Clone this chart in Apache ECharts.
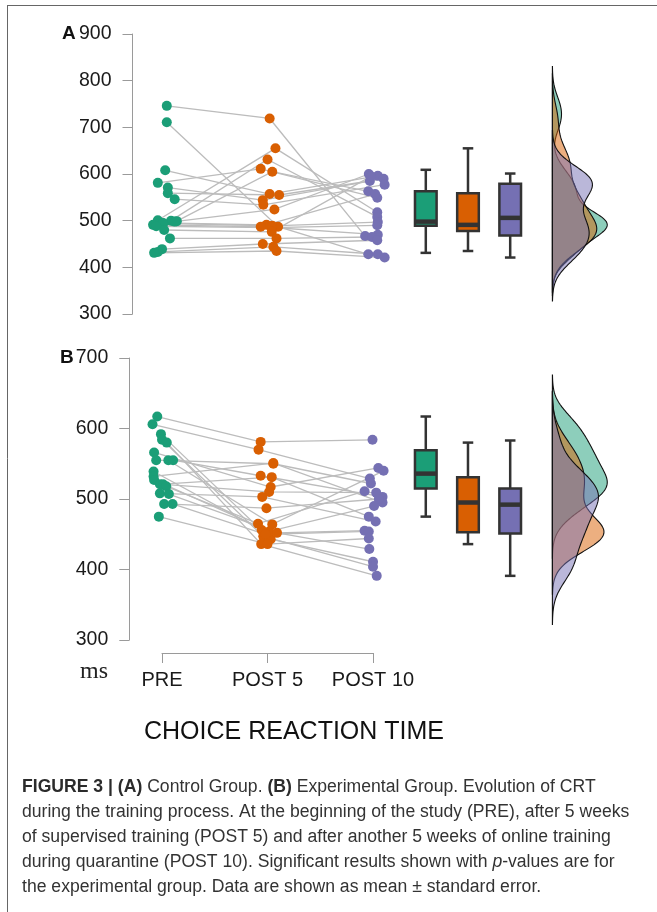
<!DOCTYPE html>
<html><head><meta charset="utf-8">
<script src="https://cdn.jsdelivr.net/npm/echarts@6/dist/echarts.min.js"></script>
<style>html,body{margin:0;padding:0;background:#fff}#c{width:657px;height:912px}</style>
</head><body><div id="c"></div>
<script>
// ---------- data ----------
const categories = ['PRE', 'POST 5', 'POST 10'];
const yRangeA = [300, 900];
const yRangeB = [300, 700];
// Panel A (control group), one entry per participant
const preA   = [746, 711, 608, 581, 571, 559, 546, 501, 500, 499, 498, 495, 494, 491, 488, 480, 462, 439, 433, 431];
const post5A = [719, 487, 557, 611, 544, 555, 534, 655, 631, 605, 524, 491, 489, 487, 485, 476, 462, 450, 444, 435];
const post10A= [467, 428, 596, 549, 590, 585, 577, 518, 508, 563, 600, 557, 497, 470, 490, 595, 465, 458, 428, 421];
// horizontal jitter (category units)
const jPreA  = [0.045, 0.045, 0.03, -0.04, 0.055, 0.055, 0.12, -0.04, 0.085, 0.14, 0.12, 0.01, 0.01, -0.085, -0.055, 0.02, 0.075, 0, -0.04, -0.075];
const j5A    = [0.02, 0.1, 0.02, -0.065, -0.045, 0.11, -0.04, 0.075, 0, 0.045, 0.065, -0.01, 0.045, -0.065, 0.04, 0.04, 0.085, -0.045, 0.055, 0.085];
const j10A   = [-0.075, -0.045, 0.045, 0.04, 0.1, -0.03, 0.11, 0.04, 0.04, -0.045, -0.04, 0.02, 0.045, 0.045, 0.04, -0.02, -0.01, 0.04, 0.045, 0.11];
// Panel B (experimental group)
const preB   = [617, 606, 592, 584, 580, 566, 555, 555, 555, 539, 532, 527, 521, 521, 518, 508, 507, 493, 493, 475];
const post5B = [581, 570, 443, 447, 436, 517, 550, 464, 533, 456, 551, 454, 510, 531, 465, 503, 452, 487, 450, 436];
const post10B= [584, 529, 411, 404, 391, 544, 522, 540, 503, 429, 495, 490, 509, 475, 511, 468, 455, 500, 454, 444];
const jPreB  = [-0.045, -0.09, -0.01, 0, 0.045, -0.075, -0.055, 0.06, 0.105, -0.08, -0.08, -0.075, -0.02, 0.01, 0.04, -0.02, 0.065, 0.02, 0.1, -0.03];
const j5B    = [-0.065, -0.085, 0.03, -0.04, -0.06, 0.03, 0.055, 0.045, -0.065, -0.055, 0.055, 0.015, 0.015, 0.04, -0.09, -0.05, 0.09, -0.01, -0.02, 0];
const j10B   = [-0.005, -0.03, 0, 0, 0.035, 0.05, -0.02, 0.1, 0.09, -0.035, 0.09, 0.01, 0.03, -0.04, -0.08, 0.025, -0.08, 0.055, -0.04, -0.04];
// box plot stats [min, Q1, median, Q3, max] per category
const boxA = [[431, 489, 498, 563, 609], [435, 478, 491, 559, 655], [421, 468, 506, 579, 601]];
const boxB = [[475, 515, 536, 569, 617], [436, 453, 495, 531, 580], [391, 451, 492, 515, 583]];

// ---------- styling ----------
const COLORS = ['#1B9E77', '#D95F02', '#7570B3'];
const FILLS = ['rgba(27,158,119,0.5)', 'rgba(217,95,2,0.5)', 'rgba(117,112,179,0.5)'];
const BOX_X = [2.5, 2.9, 3.3];
const DENS_BASE = 3.7, DENS_MAX_W = 0.52;
const FONT = '"Liberation Sans", Arial, sans-serif';

// ---------- helpers ----------
function q7(s, p) { const h = (s.length - 1) * p, lo = Math.floor(h); return s[lo] + (h - lo) * (s[Math.min(lo + 1, s.length - 1)] - s[lo]); }
function bwNrd0(v) {
  const n = v.length, m = v.reduce((a, b) => a + b, 0) / n;
  const sd = Math.sqrt(v.reduce((a, b) => a + (b - m) * (b - m), 0) / (n - 1));
  const s = [...v].sort((a, b) => a - b);
  const iqr = q7(s, 0.75) - q7(s, 0.25);
  return 0.9 * Math.min(sd, iqr / 1.34) * Math.pow(n, -0.2);
}
function kde(v) {
  const bw = bwNrd0(v), lo = Math.min(...v) - 3 * bw, hi = Math.max(...v) + 3 * bw, N = 160, out = [];
  for (let i = 0; i <= N; i++) {
    const y = lo + (hi - lo) * i / N; let d = 0;
    for (const x of v) { const z = (y - x) / bw; d += Math.exp(-0.5 * z * z); }
    out.push([y, d / (v.length * bw * Math.sqrt(2 * Math.PI))]);
  }
  return out;
}

function panelSeries(gi, pre, p5, p10, jp, j5, j10, box) {
  const series = [];
  // connecting lines
  series.push({
    type: 'custom', xAxisIndex: gi, yAxisIndex: gi, z: 1, silent: true,
    data: pre.map((v, i) => [0 + jp[i], v, 1 + j5[i], p5[i], 2 + j10[i], p10[i]]),
    renderItem(params, api) {
      const pts = [0, 2, 4].map(k => api.coord([api.value(k), api.value(k + 1)]));
      return { type: 'polyline', shape: { points: pts }, style: { stroke: '#bcbcbc', lineWidth: 1.3, fill: null } };
    }
  });
  // points
  [[pre, jp], [p5, j5], [p10, j10]].forEach(([vals, jit], c) => {
    series.push({
      type: 'scatter', xAxisIndex: gi, yAxisIndex: gi, z: 3, symbolSize: 10,
      itemStyle: { color: COLORS[c], opacity: 1 },
      data: vals.map((v, i) => [c + jit[i], v])
    });
  });
  // box plots
  series.push({
    type: 'custom', xAxisIndex: gi, yAxisIndex: gi, z: 4,
    data: box.map((b, i) => [BOX_X[i], ...b]),
    renderItem(params, api) {
      const x = api.value(0);
      const w = api.size([0.205, 0])[0], cap = api.size([0.1, 0])[0];
      const P = k => api.coord([x, api.value(k)]);
      const pMin = P(1), pQ1 = P(2), pMed = P(3), pQ3 = P(4), pMax = P(5);
      const st = { stroke: '#333', lineWidth: 2.5 };
      return { type: 'group', children: [
        { type: 'line', shape: { x1: pMin[0], y1: pMin[1], x2: pQ1[0], y2: pQ1[1] }, style: st },
        { type: 'line', shape: { x1: pQ3[0], y1: pQ3[1], x2: pMax[0], y2: pMax[1] }, style: st },
        { type: 'line', shape: { x1: pMin[0] - cap / 2, y1: pMin[1], x2: pMin[0] + cap / 2, y2: pMin[1] }, style: st },
        { type: 'line', shape: { x1: pMax[0] - cap / 2, y1: pMax[1], x2: pMax[0] + cap / 2, y2: pMax[1] }, style: st },
        { type: 'rect', shape: { x: pQ3[0] - w / 2, y: pQ3[1], width: w, height: pQ1[1] - pQ3[1] },
          style: { fill: COLORS[params.dataIndex], stroke: '#333', lineWidth: 2.5 } },
        { type: 'line', shape: { x1: pMed[0] - w / 2, y1: pMed[1], x2: pMed[0] + w / 2, y2: pMed[1] }, style: { stroke: '#333', lineWidth: 4.5 } }
      ] };
    }
  });
  // half-violin densities
  const dens = [pre, p5, p10].map(kde);
  const maxD = Math.max(...dens.map(d => Math.max(...d.map(p => p[1]))));
  const k = DENS_MAX_W / maxD;
  series.push({
    type: 'custom', xAxisIndex: gi, yAxisIndex: gi, z: 2,
    data: [[DENS_BASE, 500], [DENS_BASE, 500], [DENS_BASE, 500]],
    renderItem(params, api) {
      const d = dens[params.dataIndex];
      const pts = [api.coord([DENS_BASE, d[0][0]])];
      d.forEach(([y, den]) => pts.push(api.coord([DENS_BASE + den * k, y])));
      pts.push(api.coord([DENS_BASE, d[d.length - 1][0]]));
      return { type: 'polygon', shape: { points: pts }, style: { fill: FILLS[params.dataIndex], stroke: '#111', lineWidth: 1.1 } };
    }
  });
  return series;
}

const yAxisBase = (range, gi) => ({
  type: 'value', gridIndex: gi, min: range[0], max: range[1], interval: 100,
  axisLine: { show: true, onZero: false, lineStyle: { color: '#9a9a9a', width: 1 } },
  axisTick: { show: true, length: 10, lineStyle: { color: '#9a9a9a', width: 1 } },
  axisLabel: { fontSize: 19.5, color: '#1a1a1a', fontFamily: FONT, margin: 21 },
  splitLine: { show: false }
});

const chart = echarts.init(document.getElementById('c'), null, { renderer: 'canvas' });
const CAP_FS = 17.6;
const capStyle = { fontSize: CAP_FS, fontFamily: FONT, fill: '#333' };
const capRich = { b: { fontWeight: 'bold', fontSize: CAP_FS, fontFamily: FONT, fill: '#2b2b2b' }, i: { fontStyle: 'italic', fontSize: CAP_FS, fontFamily: FONT, fill: '#333' } };
const capLines = [
  '{b|FIGURE 3 | (A)} Control Group. {b|(B)} Experimental Group. Evolution of CRT',
  'during the training process. At the beginning of the study (PRE), after 5 weeks',
  'of supervised training (POST 5) and after another 5 weeks of online training',
  'during quarantine (POST 10). Significant results shown with {i|p}-values are for',
  'the experimental group. Data are shown as mean \u00B1 standard error.'
];

chart.setOption({
  animation: false,
  backgroundColor: '#fff',
  grid: [
    { left: 132.5, top: 34, width: 483.2, height: 280 },
    { left: 129.3, top: 358, width: 486.4, height: 282 },
    { left: 162, top: 600, width: 211, height: 53 }
  ],
  xAxis: [
    { type: 'value', gridIndex: 0, min: -0.28, max: 4.3, show: false },
    { type: 'value', gridIndex: 1, min: -0.31, max: 4.3, show: false },
    { type: 'value', gridIndex: 2, min: 0, max: 2, interval: 1, position: 'bottom',
      axisLine: { show: true, onZero: false, lineStyle: { color: '#9a9a9a', width: 1 } },
      axisTick: { show: true, length: 10, lineStyle: { color: '#9a9a9a', width: 1 } },
      axisLabel: { fontSize: 20, color: '#1a1a1a', fontFamily: FONT, margin: 17, formatter: v => categories[v] || '' },
      splitLine: { show: false } }
  ],
  yAxis: [
    yAxisBase(yRangeA, 0),
    yAxisBase(yRangeB, 1),
    { type: 'value', gridIndex: 2, show: false, min: 0, max: 1 }
  ],
  series: [
    ...panelSeries(0, preA, post5A, post10A, jPreA, j5A, j10A, boxA),
    ...panelSeries(1, preB, post5B, post10B, jPreB, j5B, j10B, boxB)
  ],
  graphic: [
    { type: 'line', shape: { x1: 7, y1: 5.5, x2: 657, y2: 5.5 }, style: { stroke: '#666', lineWidth: 1 } },
    { type: 'line', shape: { x1: 7.5, y1: 5, x2: 7.5, y2: 912 }, style: { stroke: '#666', lineWidth: 1 } },
    { type: 'text', left: 62, top: 24, style: { text: 'A', fontSize: 19, fontWeight: 'bold', fontFamily: FONT, fill: '#111' } },
    { type: 'text', left: 60, top: 348, style: { text: 'B', fontSize: 19, fontWeight: 'bold', fontFamily: FONT, fill: '#111' } },
    { type: 'text', left: 80, top: 660, style: { text: 'ms', fontSize: 24, fontFamily: '"Liberation Serif", "DejaVu Serif", serif', fill: '#222' } },
    { type: 'text', x: 294, y: 732, style: { text: 'CHOICE REACTION TIME', fontSize: 25, fontFamily: FONT, fill: '#111', align: 'center', verticalAlign: 'middle' } },
    ...capLines.map((t, i) => ({ type: 'text', x: 22, y: 787 + i * 25, style: Object.assign({ text: t, rich: capRich, verticalAlign: 'middle' }, capStyle) }))
  ]
});
</script></body></html>
